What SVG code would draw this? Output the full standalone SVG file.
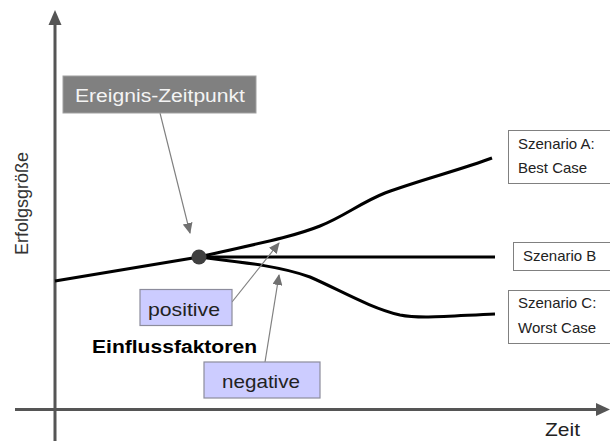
<svg xmlns="http://www.w3.org/2000/svg" width="610" height="441" viewBox="0 0 610 441">
<style>
text{font-family:"Liberation Sans",Arial,sans-serif}
.axis{stroke:#555;stroke-width:3;fill:none}
.curve{stroke:#000;stroke-width:3;fill:none;stroke-linejoin:round}
.pointer{stroke:#808080;stroke-width:1.2;fill:none}
.scen{fill:#fff;stroke:#808080;stroke-width:1}
.fac{fill:#ccccff;stroke:#8c8c9c;stroke-width:1.2}
.st{font-size:15px;fill:#222}
.ft{font-size:19px;fill:#222}
</style>
<defs>
<marker id="ah" markerUnits="userSpaceOnUse" markerWidth="12" markerHeight="10" refX="10" refY="5" orient="auto">
<path d="M0,0 L11,5 L0,10 Z" fill="#707070"/>
</marker>
</defs>
<g id="axes">
<line class="axis" x1="55" y1="441" x2="55" y2="22"/>
<polygon points="55,10 48.5,25 61.5,25" fill="#555"/>
<line class="axis" x1="15" y1="409.5" x2="598" y2="409.5"/>
<polygon points="610,409.5 596,403 596,416" fill="#555"/>
<text x="0" y="0" transform="translate(28,203.5) rotate(-90)" text-anchor="middle" font-size="18" fill="#333">Erfolgsgröße</text>
<text x="545" y="436" font-size="19" fill="#222" textLength="35" lengthAdjust="spacingAndGlyphs">Zeit</text>
</g>
<g id="curves">
<path class="curve" d="M55,281 L199,257"/>
<path class="curve" d="M199,257 C250,245 290,238 320,226 C345,216 360,203 385,193 C420,180 460,170 492,158"/>
<path class="curve" d="M199,257 L495,257"/>
<path class="curve" d="M199,257 C240,262 280,266 310,277 C340,290 370,308 400,315 C420,319 450,316 495,314"/>
</g>
<g id="event-point">
<circle cx="199" cy="257" r="7.5" fill="#404040"/>
</g>
<g id="connectors">
<line class="pointer" x1="160" y1="113" x2="190" y2="233" marker-end="url(#ah)"/>
<line class="pointer" x1="232" y1="302" x2="279" y2="243" marker-end="url(#ah)"/>
<line class="pointer" x1="265" y1="362" x2="279" y2="275" marker-end="url(#ah)"/>
</g>
<g id="ereignis">
<rect x="63" y="76" width="193" height="37" fill="#808080" stroke="#a0a0a0" stroke-width="1"/>
<text x="75" y="102" font-size="18" fill="#f4f4f4" textLength="170" lengthAdjust="spacingAndGlyphs">Ereignis-Zeitpunkt</text>
</g>
<g id="szenario-a">
<rect class="scen" x="508.5" y="130.5" width="110" height="53"/>
<text class="st" x="518" y="149">Szenario A:</text>
<text class="st" x="518" y="173">Best Case</text>
</g>
<g id="szenario-b">
<rect class="scen" x="513.5" y="242.5" width="110" height="28"/>
<text class="st" x="523" y="261">Szenario B</text>
</g>
<g id="szenario-c">
<rect class="scen" x="508.5" y="290.5" width="110" height="53"/>
<text class="st" x="518" y="308">Szenario C:</text>
<text class="st" x="518" y="333">Worst Case</text>
</g>
<g id="positive">
<rect class="fac" x="140" y="289.5" width="92" height="36"/>
<text class="ft" x="148" y="316" textLength="72" lengthAdjust="spacingAndGlyphs">positive</text>
</g>
<g id="negative">
<rect class="fac" x="204" y="362" width="116" height="36"/>
<text class="ft" x="222" y="388" textLength="78" lengthAdjust="spacingAndGlyphs">negative</text>
</g>
<g id="einflussfaktoren">
<text x="92" y="353" font-size="18" font-weight="bold" fill="#000" textLength="165" lengthAdjust="spacingAndGlyphs">Einflussfaktoren</text>
</g>
</svg>
